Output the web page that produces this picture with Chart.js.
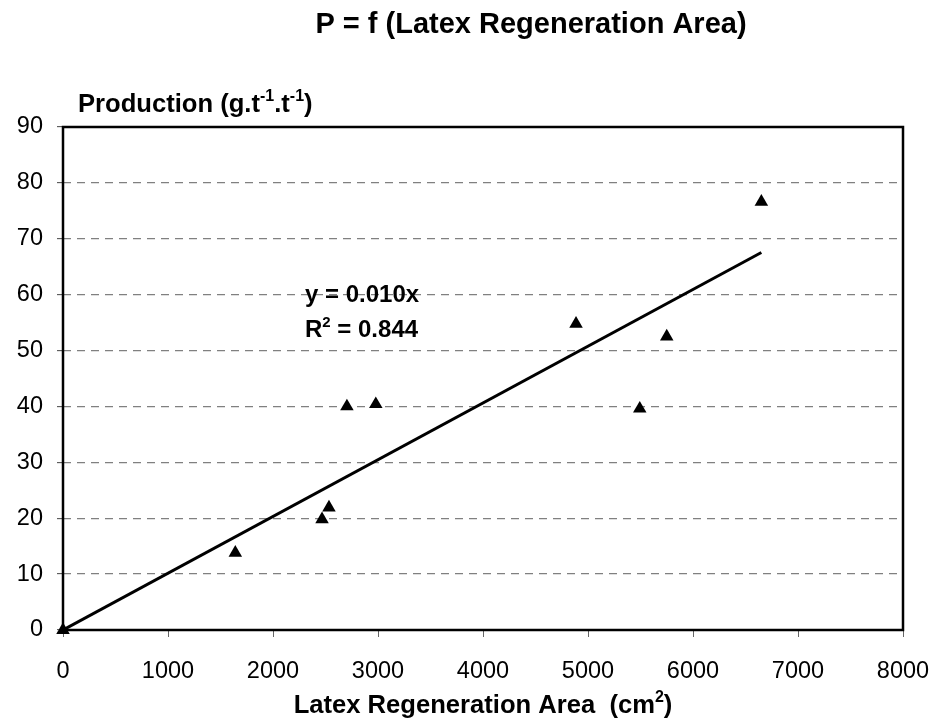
<!DOCTYPE html>
<html>
<head>
<meta charset="utf-8">
<script src="https://cdn.jsdelivr.net/npm/chart.js@4.4.1/dist/chart.umd.min.js"></script>
<style>
html,body{margin:0;padding:0;background:#fff;}
#wrap{width:936px;height:722px;position:relative;}
</style>
</head>
<body>
<div id="wrap"><canvas id="c" width="936" height="722"></canvas></div>
<script>
// Data
const areaCm2 = [0, 1641, 2467, 2533, 2704, 2979, 4886, 5493, 5750, 6651];
const production = [0, 13.8, 19.8, 21.9, 40.0, 40.4, 54.8, 39.6, 52.5, 76.6];
const trendX = [0, 6651];
const trendY = [0, 67.55];
const xTicks = [0, 1000, 2000, 3000, 4000, 5000, 6000, 7000, 8000];
const yTicks = [0, 10, 20, 30, 40, 50, 60, 70, 80, 90];
const chartTitle = 'P = f (Latex Regeneration Area)';
const equationText = 'y = 0.010x';
const r2Text = '0.844';

const FONT = '"Liberation Sans", Arial, sans-serif';

function drawRich(ctx, parts, x, y, size, align) {
  let total = 0;
  const widths = parts.map(p => {
    ctx.font = 'bold ' + (p.sup ? Math.round(size * 0.62) : size) + 'px ' + FONT;
    const w = ctx.measureText(p.t).width;
    total += w;
    return w;
  });
  let cx = align === 'center' ? x - total / 2 : x;
  ctx.textBaseline = 'alphabetic';
  ctx.textAlign = 'left';
  parts.forEach((p, i) => {
    ctx.font = 'bold ' + (p.sup ? Math.round(size * 0.62) : size) + 'px ' + FONT;
    ctx.fillText(p.t, cx, p.sup ? y - size * 0.42 : y);
    cx += widths[i];
  });
}

const decor = {
  id: 'decor',
  afterDatasetsDraw(chart) {
    const ctx = chart.ctx;
    const a = chart.chartArea;
    ctx.save();
    ctx.strokeStyle = '#000';
    ctx.lineWidth = 2.5;
    ctx.strokeRect(a.left, a.top, a.right - a.left, a.bottom - a.top);
    ctx.restore();
  },
  afterDraw(chart) {
    const ctx = chart.ctx;
    const a = chart.chartArea;
    ctx.save();
    ctx.fillStyle = '#000';
    drawRich(ctx, [{t: chartTitle}], 531, 33, 29, 'center');
    drawRich(ctx, [{t: 'Production (g.t'}, {t: '-1', sup: true}, {t: '.t'}, {t: '-1', sup: true}, {t: ')'}], 78, 112, 25.6, 'left');
    drawRich(ctx, [{t: 'Latex Regeneration Area  (cm'}, {t: '2', sup: true}, {t: ')'}], (a.left + a.right) / 2, 713, 25.6, 'center');
    drawRich(ctx, [{t: equationText}], 305, 302, 24, 'left');
    drawRich(ctx, [{t: 'R'}, {t: '2', sup: true}, {t: ' = ' + r2Text}], 305, 337, 24, 'left');
    ctx.restore();
  }
};

new Chart(document.getElementById('c'), {
  type: 'scatter',
  data: {
    datasets: [
      {
        label: 'Production',
        data: areaCm2.map((x, i) => ({x: x, y: production[i]})),
        pointStyle: 'triangle',
        pointRadius: 7.8,
        pointHoverRadius: 7.8,
        backgroundColor: '#000',
        borderColor: '#000',
        borderWidth: 0,
        clip: false,
        order: 1
      },
      {
        label: 'Trend',
        type: 'line',
        data: trendX.map((x, i) => ({x: x, y: trendY[i]})),
        showLine: true,
        pointRadius: 0,
        borderColor: '#000',
        borderWidth: 3,
        fill: false,
        tension: 0,
        order: 2
      }
    ]
  },
  options: {
    responsive: false,
    animation: false,
    events: [],
    layout: {padding: {top: 127, right: 33, left: 0, bottom: 0}},
    plugins: {legend: {display: false}, tooltip: {enabled: false}, title: {display: false}},
    scales: {
      x: {
        type: 'linear',
        min: 0, max: 8000,
        afterBuildTicks(scale) { scale.ticks = xTicks.map(v => ({value: v})); },
        afterFit(scale) { scale.height = 92; scale.paddingRight = 0; scale.paddingLeft = 0; },
        grid: {drawOnChartArea: false, drawTicks: true, tickLength: 7, tickColor: '#666', tickWidth: 1},
        border: {display: false},
        ticks: {color: '#000', font: {family: FONT, size: 23.5}, padding: 20, maxRotation: 0, autoSkip: false,
                callback: (v) => String(v)}
      },
      y: {
        type: 'linear',
        min: 0, max: 90,
        afterBuildTicks(scale) { scale.ticks = yTicks.map(v => ({value: v})); },
        afterFit(scale) { scale.width = 63; scale.paddingTop = 0; scale.paddingBottom = 0; },
        grid: {drawOnChartArea: true, drawTicks: true, tickLength: 6, color: '#808080', lineWidth: 1.3, tickColor: '#444', tickWidth: 1, tickBorderDash: []},
        border: {display: false, dash: [8, 6]},
        ticks: {color: '#000', font: {family: FONT, size: 23.5}, padding: 14, callback: (v) => String(v)}
      }
    }
  },
  plugins: [decor]
});
</script>
</body>
</html>
